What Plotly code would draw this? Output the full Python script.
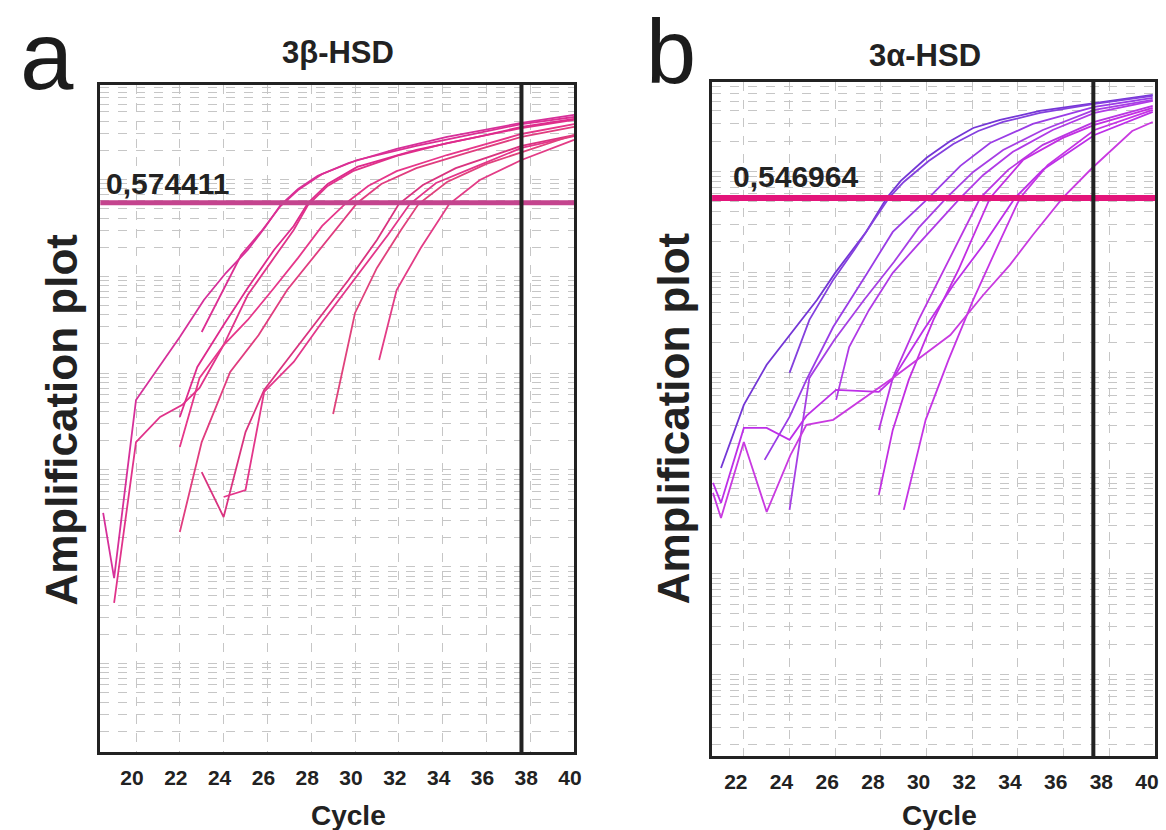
import plotly.graph_objects as go

W, H = 1166, 830

# ---------------- 3β-HSD : amplification curves (cycle, ΔRn) ----------------
hsdb_w1_cyc = [18.5, 19.0, 20.0, 22.0, 23.1, 24.1, 25.1, 25.9, 26.6, 27.4, 28.3, 29.7, 31.9, 34.2, 37.6, 40.0]
hsdb_w1_drn = [3.59e-4, 7.64e-5, 5.27e-3, 0.0236, 0.0569, 0.108, 0.187, 0.323, 0.545, 0.798, 1.09, 1.48, 2.07, 2.75, 3.84, 4.64]

hsdb_w2_cyc = [23.0, 24.0, 24.8, 25.7, 26.6, 27.4, 28.5, 30.1, 32.8, 35.6, 37.6, 40.0]
hsdb_w2_drn = [0.0266, 0.0722, 0.166, 0.287, 0.532, 0.779, 1.14, 1.59, 2.22, 3.02, 3.74, 4.42]

hsdb_w3_cyc = [19.0, 20.0, 21.1, 22.1, 22.9, 24.0, 25.1, 26.3, 27.2, 27.85, 28.75, 29.9, 31.9, 34.2, 37.6, 40.0]
hsdb_w3_drn = [4.22e-5, 1.94e-3, 3.52e-3, 4.68e-3, 7.02e-3, 0.0195, 0.0641, 0.155, 0.301, 0.545, 0.857, 1.22, 1.75, 2.38, 3.40, 4.12]

hsdb_w4_cyc = [22.0, 22.8, 24.0, 25.1, 26.3, 27.2, 27.85, 28.75, 30.1, 32.8, 35.6, 37.6, 40.0]
hsdb_w4_drn = [3.52e-3, 0.01156, 0.0314, 0.0757, 0.187, 0.331, 0.572, 0.899, 1.35, 2.02, 2.75, 3.49, 4.22]

hsdb_w5_cyc = [22.0, 22.9, 24.0, 25.1, 26.3, 27.4, 28.5, 29.6, 30.6, 31.9, 34.2, 37.6, 40.0]
hsdb_w5_drn = [1.72e-3, 8.90e-3, 0.0195, 0.0354, 0.0757, 0.155, 0.331, 0.572, 0.857, 1.22, 1.79, 2.95, 3.74]

hsdb_w6_cyc = [22.0, 23.0, 24.3, 25.6, 26.9, 28.3, 29.4, 30.1, 31.2, 32.8, 35.1, 37.6, 40.0]
hsdb_w6_drn = [2.28e-4, 1.94e-3, 0.01026, 0.0247, 0.0722, 0.178, 0.364, 0.572, 0.899, 1.31, 1.88, 2.75, 3.49]

hsdb_w7_cyc = [23.0, 24.0, 25.0, 25.85, 26.9, 28.3, 29.7, 31.0, 32.0, 33.1, 34.6, 37.6, 40.0]
hsdb_w7_drn = [9.51e-4, 3.26e-4, 2.46e-3, 6.69e-3, 0.01366, 0.0354, 0.0916, 0.237, 0.558, 0.877, 1.31, 2.22, 2.88]

hsdb_w8_cyc = [24.0, 25.0, 25.85, 27.2, 28.5, 30.1, 31.5, 32.5, 33.7, 35.6, 37.6, 40.0]
hsdb_w8_drn = [5.25e-4, 6.20e-4, 6.38e-3, 0.01302, 0.0337, 0.103, 0.267, 0.558, 0.920, 1.38, 2.12, 2.81]

hsdb_w9_cyc = [29.0, 30.0, 31.0, 32.1, 32.9, 34.2, 36.0, 37.6, 40.0]
hsdb_w9_drn = [3.78e-3, 0.0418, 0.122, 0.301, 0.558, 0.942, 1.45, 1.92, 2.88]

hsdb_w10_cyc = [31.1, 31.9, 33.0, 34.3, 35.7, 37.6, 40.0]
hsdb_w10_drn = [0.01366, 0.0722, 0.196, 0.558, 0.988, 1.59, 2.56]

hsdb_threshold = 0.574411
hsdb_cutoff_cycle = 37.6
hsdb_ticks = [20, 22, 24, 26, 28, 30, 32, 34, 36, 38, 40]

# ---------------- 3α-HSD : amplification curves (cycle, ΔRn) ----------------
hsda_w1_cyc = [21.0, 22.0, 23.0, 24.2, 25.2, 26.0, 27.35, 28.26, 28.87, 30.0, 31.04, 32.04, 33.22, 34.96, 37.35, 39.9]
hsda_w1_drn = [0.00113, 0.00479, 0.0120, 0.0266, 0.0529, 0.0983, 0.251, 0.547, 0.806, 1.37, 2.01, 2.71, 3.26, 4.00, 4.81, 5.77]

hsda_w2_cyc = [24.0, 24.87, 25.91, 26.83, 27.70, 28.35, 29.0, 30.09, 31.17, 32.26, 33.35, 34.96, 37.35, 39.9]
hsda_w2_drn = [0.00995, 0.0335, 0.0837, 0.166, 0.330, 0.547, 0.788, 1.27, 1.88, 2.53, 3.11, 3.82, 4.70, 5.64]

hsda_w3_cyc = [22.91, 24.0, 24.74, 25.91, 27.35, 28.52, 30.09, 31.48, 32.78, 34.65, 37.35, 39.9]
hsda_w3_drn = [0.00136, 0.00364, 0.00848, 0.0285, 0.0938, 0.251, 0.547, 1.14, 1.92, 2.97, 4.39, 5.39]

hsda_w4_cyc = [24.0, 24.87, 25.96, 27.26, 28.57, 29.65, 30.87, 32.04, 33.35, 35.09, 37.35, 39.9]
hsda_w4_drn = [0.000433, 0.00888, 0.0212, 0.0529, 0.126, 0.275, 0.547, 0.991, 1.64, 2.59, 4.10, 5.15]

hsda_w5_cyc = [26.04, 26.61, 27.48, 28.52, 29.65, 30.52, 31.48, 32.48, 33.78, 35.52, 37.35, 39.9]
hsda_w5_drn = [0.00537, 0.0180, 0.0421, 0.0983, 0.191, 0.316, 0.547, 0.925, 1.57, 2.59, 3.82, 5.03]

hsda_w6_cyc = [27.91, 28.52, 29.65, 30.96, 32.35, 33.57, 35.09, 37.35, 39.9]
hsda_w6_drn = [0.00270, 0.00888, 0.0335, 0.132, 0.547, 1.04, 1.84, 3.11, 4.49]

hsda_w7_cyc = [27.91, 28.52, 29.22, 30.30, 31.39, 32.78, 34.22, 35.96, 37.35, 39.9]
hsda_w7_drn = [0.000610, 0.00270, 0.00848, 0.0335, 0.105, 0.547, 1.30, 2.16, 2.91, 4.29]

hsda_w8_cyc = [29.0, 29.96, 30.96, 32.04, 33.13, 34.09, 35.30, 37.35, 39.9]
hsda_w8_drn = [0.000433, 0.00340, 0.0134, 0.0529, 0.186, 0.547, 1.16, 2.59, 4.10]

hsda_w9_cyc = [20.65, 21.0, 22.0, 23.0, 24.0, 24.74, 26.04, 27.91, 28.52, 29.87, 31.17, 32.48, 33.87, 35.09, 37.35, 39.9]
hsda_w9_drn = [0.000803, 0.000508, 0.00283, 0.00283, 0.00215, 0.00372, 0.00675, 0.00644, 0.00868, 0.0266, 0.0746, 0.186, 0.547, 1.04, 2.31, 3.91]

hsda_w10_cyc = [20.65, 21.0, 22.0, 23.0, 24.04, 24.74, 25.91, 28.52, 31.04, 32.48, 33.65, 34.65, 35.96, 37.26, 39.0, 39.9]
hsda_w10_drn = [0.000639, 0.000360, 0.00205, 0.000413, 0.00152, 0.00303, 0.00340, 0.00888, 0.0237, 0.0593, 0.118, 0.234, 0.547, 1.09, 2.53, 3.11]

hsda_threshold = 0.546964
hsda_cutoff_cycle = 37.3
hsda_ticks = [22, 24, 26, 28, 30, 32, 34, 36, 38, 40]

# ---------------- styling ----------------
FONT = "Liberation Sans"
INK = "#222222"
GRID = "#c6c6c6"

hsdb_colors = ["#d6309a", "#dc2f93", "#e0338a", "#de2a8c", "#e6378a", "#e03d7f",
               "#d9337f", "#e3368a", "#e0427c", "#e33c86"]
hsda_colors = ["#7436d6", "#8440de", "#9a3ce6", "#a63fe4", "#b03ae6", "#b936e2",
               "#c22ee2", "#c534e4", "#bd2fe8", "#c93ae0"]

hsdb_curves = [
    (hsdb_w1_cyc, hsdb_w1_drn), (hsdb_w2_cyc, hsdb_w2_drn), (hsdb_w3_cyc, hsdb_w3_drn),
    (hsdb_w4_cyc, hsdb_w4_drn), (hsdb_w5_cyc, hsdb_w5_drn), (hsdb_w6_cyc, hsdb_w6_drn),
    (hsdb_w7_cyc, hsdb_w7_drn), (hsdb_w8_cyc, hsdb_w8_drn), (hsdb_w9_cyc, hsdb_w9_drn),
    (hsdb_w10_cyc, hsdb_w10_drn),
]
hsda_curves = [
    (hsda_w1_cyc, hsda_w1_drn), (hsda_w2_cyc, hsda_w2_drn), (hsda_w3_cyc, hsda_w3_drn),
    (hsda_w4_cyc, hsda_w4_drn), (hsda_w5_cyc, hsda_w5_drn), (hsda_w6_cyc, hsda_w6_drn),
    (hsda_w7_cyc, hsda_w7_drn), (hsda_w8_cyc, hsda_w8_drn), (hsda_w9_cyc, hsda_w9_drn),
    (hsda_w10_cyc, hsda_w10_drn),
]

fig = go.Figure()

for (cyc, drn), col in zip(hsdb_curves, hsdb_colors):
    fig.add_trace(go.Scatter(x=cyc, y=drn, mode="lines", line=dict(color=col, width=1.8),
                             xaxis="x", yaxis="y", showlegend=False, hoverinfo="skip"))
for (cyc, drn), col in zip(hsda_curves, hsda_colors):
    fig.add_trace(go.Scatter(x=cyc, y=drn, mode="lines", line=dict(color=col, width=1.8),
                             xaxis="x2", yaxis="y2", showlegend=False, hoverinfo="skip"))


def px_x(p):
    return p / W


def px_y(p):
    return 1 - p / H


def x_axis(domain, rng, ticks, anchor, shift):
    return dict(
        domain=domain, range=rng, anchor=anchor,
        tickmode="array", tickvals=ticks, ticktext=[str(t) for t in ticks],
        showgrid=True, gridcolor=GRID, griddash="dash", gridwidth=1,
        showline=True, linecolor=INK, linewidth=3, mirror=True, zeroline=False,
        ticks="outside", ticklen=5, tickcolor="rgba(0,0,0,0)",
        ticklabelshift=shift,
        tickfont=dict(family=FONT, size=21, color=INK, weight="bold"),
        fixedrange=True,
    )


def y_axis(domain, rng, anchor):
    return dict(
        domain=domain, range=rng, anchor=anchor, type="log", dtick=1,
        showticklabels=False, ticks="",
        showgrid=True, gridcolor=GRID, griddash="dash", gridwidth=1,
        minor=dict(dtick="D1", showgrid=True, gridcolor=GRID, griddash="dash", gridwidth=1, ticks=""),
        showline=True, linecolor=INK, linewidth=3, mirror=True, zeroline=False,
        fixedrange=True,
    )


fig.update_layout(
    width=W, height=H,
    margin=dict(l=0, r=0, t=0, b=0),
    paper_bgcolor="white", plot_bgcolor="white",
    xaxis=x_axis([px_x(101), px_x(578)], [18.37, 40.0], hsdb_ticks, "y", -4),
    yaxis=y_axis([px_y(752), px_y(85)], [-5.914, 0.976], "x"),
    xaxis2=x_axis([px_x(717), px_x(1163)], [20.61, 40.0], hsda_ticks, "y2", -8),
    yaxis2=y_axis([px_y(756), px_y(82)], [-5.81, 0.89], "x2"),
)

# threshold lines and cycle cut-off lines
fig.add_shape(type="line", xref="x domain", x0=0, x1=1, yref="y", y0=hsdb_threshold, y1=hsdb_threshold,
              line=dict(color="#c4448e", width=5))
fig.add_shape(type="line", xref="x2 domain", x0=0, x1=1, yref="y2", y0=hsda_threshold, y1=hsda_threshold,
              line=dict(color="#e3147a", width=6))
fig.add_shape(type="line", xref="x", x0=hsdb_cutoff_cycle, x1=hsdb_cutoff_cycle, yref="y domain", y0=0, y1=1,
              line=dict(color=INK, width=4))
fig.add_shape(type="line", xref="x2", x0=hsda_cutoff_cycle, x1=hsda_cutoff_cycle, yref="y2 domain", y0=0, y1=1,
              line=dict(color=INK, width=4))


def label(text, x, y, size, bold=True, angle=0, xanchor="center", yanchor="middle", color=INK):
    fig.add_annotation(
        text=f"<b>{text}</b>" if bold else text,
        xref="paper", yref="paper", x=px_x(x), y=px_y(y),
        xanchor=xanchor, yanchor=yanchor, showarrow=False, textangle=angle,
        font=dict(family=FONT, size=size, color=color),
    )


# panel letters
label("a", 47, 0, 96, bold=False, yanchor="top", color="#1c1c1c")
label("b", 676, 0, 90, bold=False, yanchor="top", color="#1c1c1c")

# panel titles
label("3β-HSD", 340, 52, 31)
label("3α-HSD", 931, 55, 31)

# threshold values
label("0,574411", 105, 183, 30, xanchor="left")
label("0,546964", 736, 176, 30, xanchor="left")

# axis titles
label("Amplification plot", 62, 420, 44, angle=-90)
label("Amplification plot", 678, 418, 44, angle=-90)
label("Cycle", 351, 815, 28)
label("Cycle", 946, 815, 28)

fig.write_html("out.html")
